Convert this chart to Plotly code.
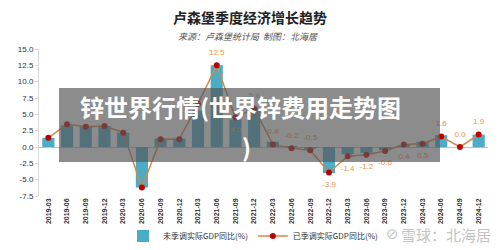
import plotly.graph_objects as go

quarters = ["2019-03","2019-06","2019-09","2019-12","2020-03","2020-06","2020-09","2020-12",
            "2021-03","2021-06","2021-09","2021-12","2022-03","2022-06","2022-09","2022-12",
            "2023-03","2023-06","2023-09","2023-12","2024-03","2024-06","2024-09","2024-12"]
gdp_nsa = [1.4, 3.3, 3.2, 3.2, 2.2, -6.2, 1.3, 1.3,
           5.6, 12.5, 4.2, 6.0, 0.8, 0.1, -0.3, -4.0,
           -1.1, -0.9, -0.5, 0.2, 0.8, 1.8, 0.0, 1.9]
gdp_sa = [1.4, 3.5, 3.1, 3.2, 2.2, -6.2, 1.2, 1.2,
          6.6, 12.5, 4.5, 5.9, 0.4, -0.2, -0.5, -3.9,
          -1.4, -1.2, -0.6, 0.4, 0.5, 1.6, 0.0, 1.9]
label_pos = ["", "", "", "", "", "bottom center", "", "",
             "", "top center", "bottom center", "top center", "top center", "top center", "top center", "bottom center",
             "bottom center", "bottom center", "bottom center", "bottom center", "bottom center", "top center", "top center", "top center"]
y_ticks = [15.0, 12.5, 10.0, 7.5, 5.0, 2.5, 0.0, -2.5, -5.0, -7.5]

CJK = "Noto Sans CJK SC"

fig = go.Figure()
fig.add_trace(go.Bar(
    x=quarters, y=gdp_nsa, name="未季调实际GDP同比(%)",
    marker=dict(color="#4bacc6", line=dict(width=0)), width=0.65,
))
fig.add_trace(go.Scatter(
    x=quarters, y=gdp_sa, name="已季调实际GDP同比(%)", mode="lines+markers",
    line=dict(color="#d4894a", width=1.5),
    marker=dict(color="#c00000", size=6),
))
lab_x = [q for q, p in zip(quarters, label_pos) if p]
lab_y = [v for v, p in zip(gdp_sa, label_pos) if p]
lab_t = [f"{v:.1f}" for v, p in zip(gdp_sa, label_pos) if p]
lab_p = [p for p in label_pos if p]
fig.add_trace(go.Scatter(
    x=lab_x, y=lab_y, text=lab_t, mode="markers+text", textposition=lab_p,
    marker=dict(size=12, opacity=0),
    textfont=dict(color="#e8954f", size=8, family="Liberation Sans"),
    showlegend=False, hoverinfo="skip",
))

# plot area geometry: x 39..488, y 49..196
def px(x):
    return (x - 39) / 449
def py(y):
    return (196 - y) / 147

shapes = [
    dict(type="rect", xref="paper", yref="paper", x0=px(59), x1=px(440), y0=py(162), y1=py(88),
         fillcolor="rgba(85,85,85,0.68)", line=dict(width=0), layer="above"),
]
annotations = [
    dict(text="<b>卢森堡季度经济增长趋势</b>", xref="paper", yref="paper", x=px(250), y=py(17),
         showarrow=False, font=dict(family=CJK, size=14, color="#222222"), xanchor="center", yanchor="middle"),
    dict(text="<i>来源：卢森堡统计局  制图：北海居</i>", xref="paper", yref="paper", x=px(248), y=py(37),
         showarrow=False, font=dict(family=CJK, size=9, color="#555555"), xanchor="center", yanchor="middle"),
    dict(text="<b>锌世界行情(世界锌费用走势图</b>", xref="paper", yref="paper", x=px(240), y=py(106),
         showarrow=False, font=dict(family=CJK, size=24, color="white"), xanchor="center", yanchor="middle"),
    dict(text="<b>)</b>", xref="paper", yref="paper", x=px(246), y=py(146),
         showarrow=False, font=dict(family=CJK, size=24, color="white"), xanchor="center", yanchor="middle"),
    dict(text="雪球：北海居", xref="paper", yref="paper", x=px(446), y=py(234),
         showarrow=False, font=dict(family=CJK, size=15, color="#c4c4c4"), xanchor="center", yanchor="middle"),
    dict(text="⊘", xref="paper", yref="paper", x=px(392), y=py(234),
         showarrow=False, font=dict(family="DejaVu Sans", size=15, color="#c4c4c4"), xanchor="center", yanchor="middle"),
]

fig.update_layout(
    width=500, height=250,
    margin=dict(l=39, r=12, t=49, b=54, autoexpand=False),
    paper_bgcolor="white", plot_bgcolor="white",
    bargap=0.35,
    showlegend=True,
    legend=dict(orientation="h", x=px(253), y=py(236), xanchor="center", yanchor="middle",
                font=dict(family=CJK, size=8, color="#333333"), itemwidth=30, tracegroupgap=0,
                bgcolor="rgba(0,0,0,0)"),
    shapes=shapes, annotations=annotations,
    xaxis=dict(type="category", tickangle=-90, showgrid=False, showline=False, ticks="",
               tickfont=dict(family="Liberation Sans", size=7, color="#333333", weight="bold"),
               range=[-0.5, 23.5], automargin=False),
    yaxis=dict(range=[-7.5, 15.0], tickvals=y_ticks, ticktext=[f"{v:.1f}" for v in y_ticks],
               showgrid=False, showline=True, linecolor="#d9d9d9", ticks="outside", ticklen=3,
               tickcolor="#d9d9d9", zeroline=True, zerolinecolor="#bfbfbf", zerolinewidth=1,
               tickfont=dict(family="Liberation Sans", size=8, color="#333333"), automargin=False),
)

fig.write_html("out.html")
